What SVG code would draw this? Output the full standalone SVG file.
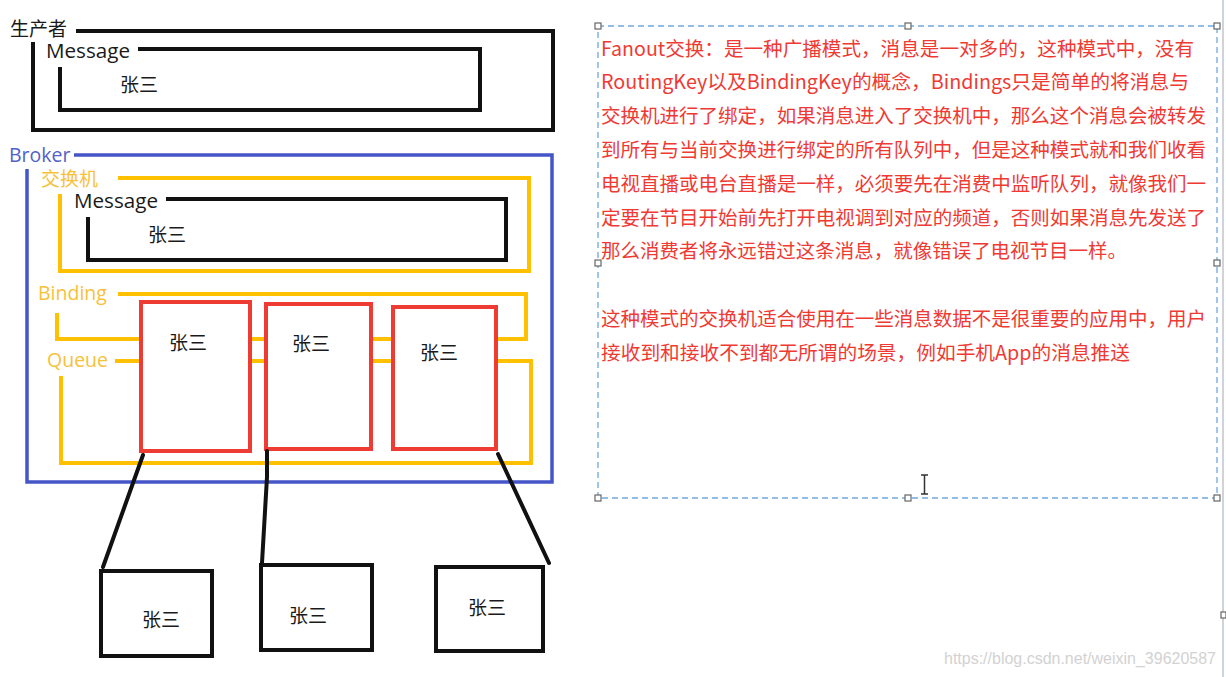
<svg xmlns="http://www.w3.org/2000/svg" width="1226" height="677" viewBox="0 0 1226 677">
<style>
.bk{fill:none;stroke:#111;stroke-width:4;stroke-linejoin:miter}
.yl{fill:none;stroke:#ffc000;stroke-width:4}
.bl{fill:none;stroke:#4455c8;stroke-width:3.5}
.rd{fill:#fff;stroke:#ee3b33;stroke-width:4}
.cb{fill:#fff;stroke:#111;stroke-width:4}
.lat{font-family:"Open Sans","Liberation Sans",sans-serif;font-size:19.5px}
.cjk{font-family:"Noto Sans CJK SC","Noto Sans",sans-serif;font-size:19px}
.blk{fill:#1a1a1a}
.ylt{fill:#f7c13a}
.blt{fill:#5262c8}
.desc{font-family:"Noto Sans CJK SC","Noto Sans",sans-serif;font-size:19.5px;fill:#ef3a34}
.hd{fill:#fff;stroke:#666;stroke-width:1.2}
.conn{stroke:#111;stroke-width:4;fill:none;stroke-linecap:round}
</style>
<rect width="1226" height="677" fill="#fff"/>

<g id="producer">
  <polyline class="bk" points="76,31 553,31 553,130 33,130 33,42"/>
  <text class="cjk blk" x="10" y="36">生产者</text>
</g>
<g id="producer-message">
  <polyline class="bk" points="138,49 480,49 480,110 60,110 60,67"/>
  <text class="lat blk" x="46" y="58" textLength="84" lengthAdjust="spacingAndGlyphs">Message</text>
  <text class="cjk blk" x="120" y="92">张三</text>
</g>

<g id="broker">
  <polyline class="bl" points="74,155 552,155 552,482 27,482 27,169"/>
  <text class="lat blt" x="9" y="162">Broker</text>
</g>
<g id="exchange">
  <polyline class="yl" points="118,178 529,178 529,271 60,271 60,194"/>
  <text class="cjk ylt" x="41" y="186">交换机</text>
</g>
<g id="exchange-message">
  <polyline class="bk" points="166,199 506,199 506,260 88,260 88,217"/>
  <text class="lat blk" x="74" y="208" textLength="84" lengthAdjust="spacingAndGlyphs">Message</text>
  <text class="cjk blk" x="148" y="242">张三</text>
</g>
<g id="binding">
  <polyline class="yl" points="118,294 526,294 526,339 57,339 57,313"/>
  <text class="lat ylt" x="38" y="300">Binding</text>
</g>
<g id="queue">
  <polyline class="yl" points="115,361 531,361 531,463 61,463 61,376"/>
  <text class="lat ylt" x="47" y="367">Queue</text>
</g>

<g id="queue1">
  <rect class="rd" x="141" y="302" width="109" height="149"/>
  <text class="cjk blk" x="169" y="350">张三</text>
</g>
<g id="queue2">
  <rect class="rd" x="266" y="304" width="105" height="145"/>
  <text class="cjk blk" x="292" y="351">张三</text>
</g>
<g id="queue3">
  <rect class="rd" x="393" y="307" width="103" height="142"/>
  <text class="cjk blk" x="420" y="360">张三</text>
</g>

<g id="connectors">
  <line class="conn" x1="143" y1="455" x2="103" y2="567"/>
  <polyline class="conn" points="267,451 267,477 262,563"/>
  <line class="conn" x1="498" y1="454" x2="549" y2="563"/>
</g>

<g id="consumer1">
  <rect class="cb" x="101" y="571" width="111" height="85"/>
  <text class="cjk blk" x="142" y="627">张三</text>
</g>
<g id="consumer2">
  <rect class="cb" x="261" y="565" width="111" height="85"/>
  <text class="cjk blk" x="289" y="623">张三</text>
</g>
<g id="consumer3">
  <rect class="cb" x="436" y="567" width="107" height="84"/>
  <text class="cjk blk" x="468" y="615">张三</text>
</g>

<g id="textbox">
  <rect x="598" y="26" width="619" height="472" fill="none" stroke="#6fa8dc" stroke-width="1.3" stroke-dasharray="6,4"/>
  <rect class="hd" x="595" y="23" width="6" height="6"/>
  <rect class="hd" x="905" y="23" width="6" height="6"/>
  <rect class="hd" x="1214" y="23" width="6" height="6"/>
  <rect class="hd" x="595" y="260" width="6" height="6"/>
  <rect class="hd" x="1214" y="260" width="6" height="6"/>
  <rect class="hd" x="595" y="495" width="6" height="6"/>
  <rect class="hd" x="905" y="495" width="6" height="6"/>
  <rect class="hd" x="1214" y="495" width="6" height="6"/>
  <text class="desc" x="601" y="55.5" textLength="593" lengthAdjust="spacingAndGlyphs">Fanout交换：是一种广播模式，消息是一对多的，这种模式中，没有</text>
  <text class="desc" x="601" y="89.3" textLength="588" lengthAdjust="spacingAndGlyphs">RoutingKey以及BindingKey的概念，Bindings只是简单的将消息与</text>
  <text class="desc" x="601" y="123.1" textLength="605" lengthAdjust="spacingAndGlyphs">交换机进行了绑定，如果消息进入了交换机中，那么这个消息会被转发</text>
  <text class="desc" x="601" y="156.9" textLength="605" lengthAdjust="spacingAndGlyphs">到所有与当前交换进行绑定的所有队列中，但是这种模式就和我们收看</text>
  <text class="desc" x="601" y="190.7" textLength="605" lengthAdjust="spacingAndGlyphs">电视直播或电台直播是一样，必须要先在消费中监听队列，就像我们一</text>
  <text class="desc" x="601" y="224.5" textLength="605" lengthAdjust="spacingAndGlyphs">定要在节目开始前先打开电视调到对应的频道，否则如果消息先发送了</text>
  <text class="desc" x="601" y="258.3" textLength="526" lengthAdjust="spacingAndGlyphs">那么消费者将永远错过这条消息，就像错误了电视节目一样。</text>
  <text class="desc" x="601" y="325.9" textLength="605" lengthAdjust="spacingAndGlyphs">这种模式的交换机适合使用在一些消息数据不是很重要的应用中，用户</text>
  <text class="desc" x="601" y="359.7" textLength="529" lengthAdjust="spacingAndGlyphs">接收到和接收不到都无所谓的场景，例如手机App的消息推送</text>
  <path d="M921,475 H928 M924.5,475 V494 M921,494 H928" stroke="#333" stroke-width="1.5" fill="none"/>
</g>

<line x1="1223" y1="0" x2="1223" y2="677" stroke="#cfd3da" stroke-width="2"/>
<rect class="hd" x="1221" y="612" width="5" height="6"/>
<text x="944" y="664" font-family="Liberation Sans, Arial, sans-serif" font-size="16" fill="#d2d2d2" textLength="272" lengthAdjust="spacingAndGlyphs">https://blog.csdn.net/weixin_39620587</text>
</svg>
